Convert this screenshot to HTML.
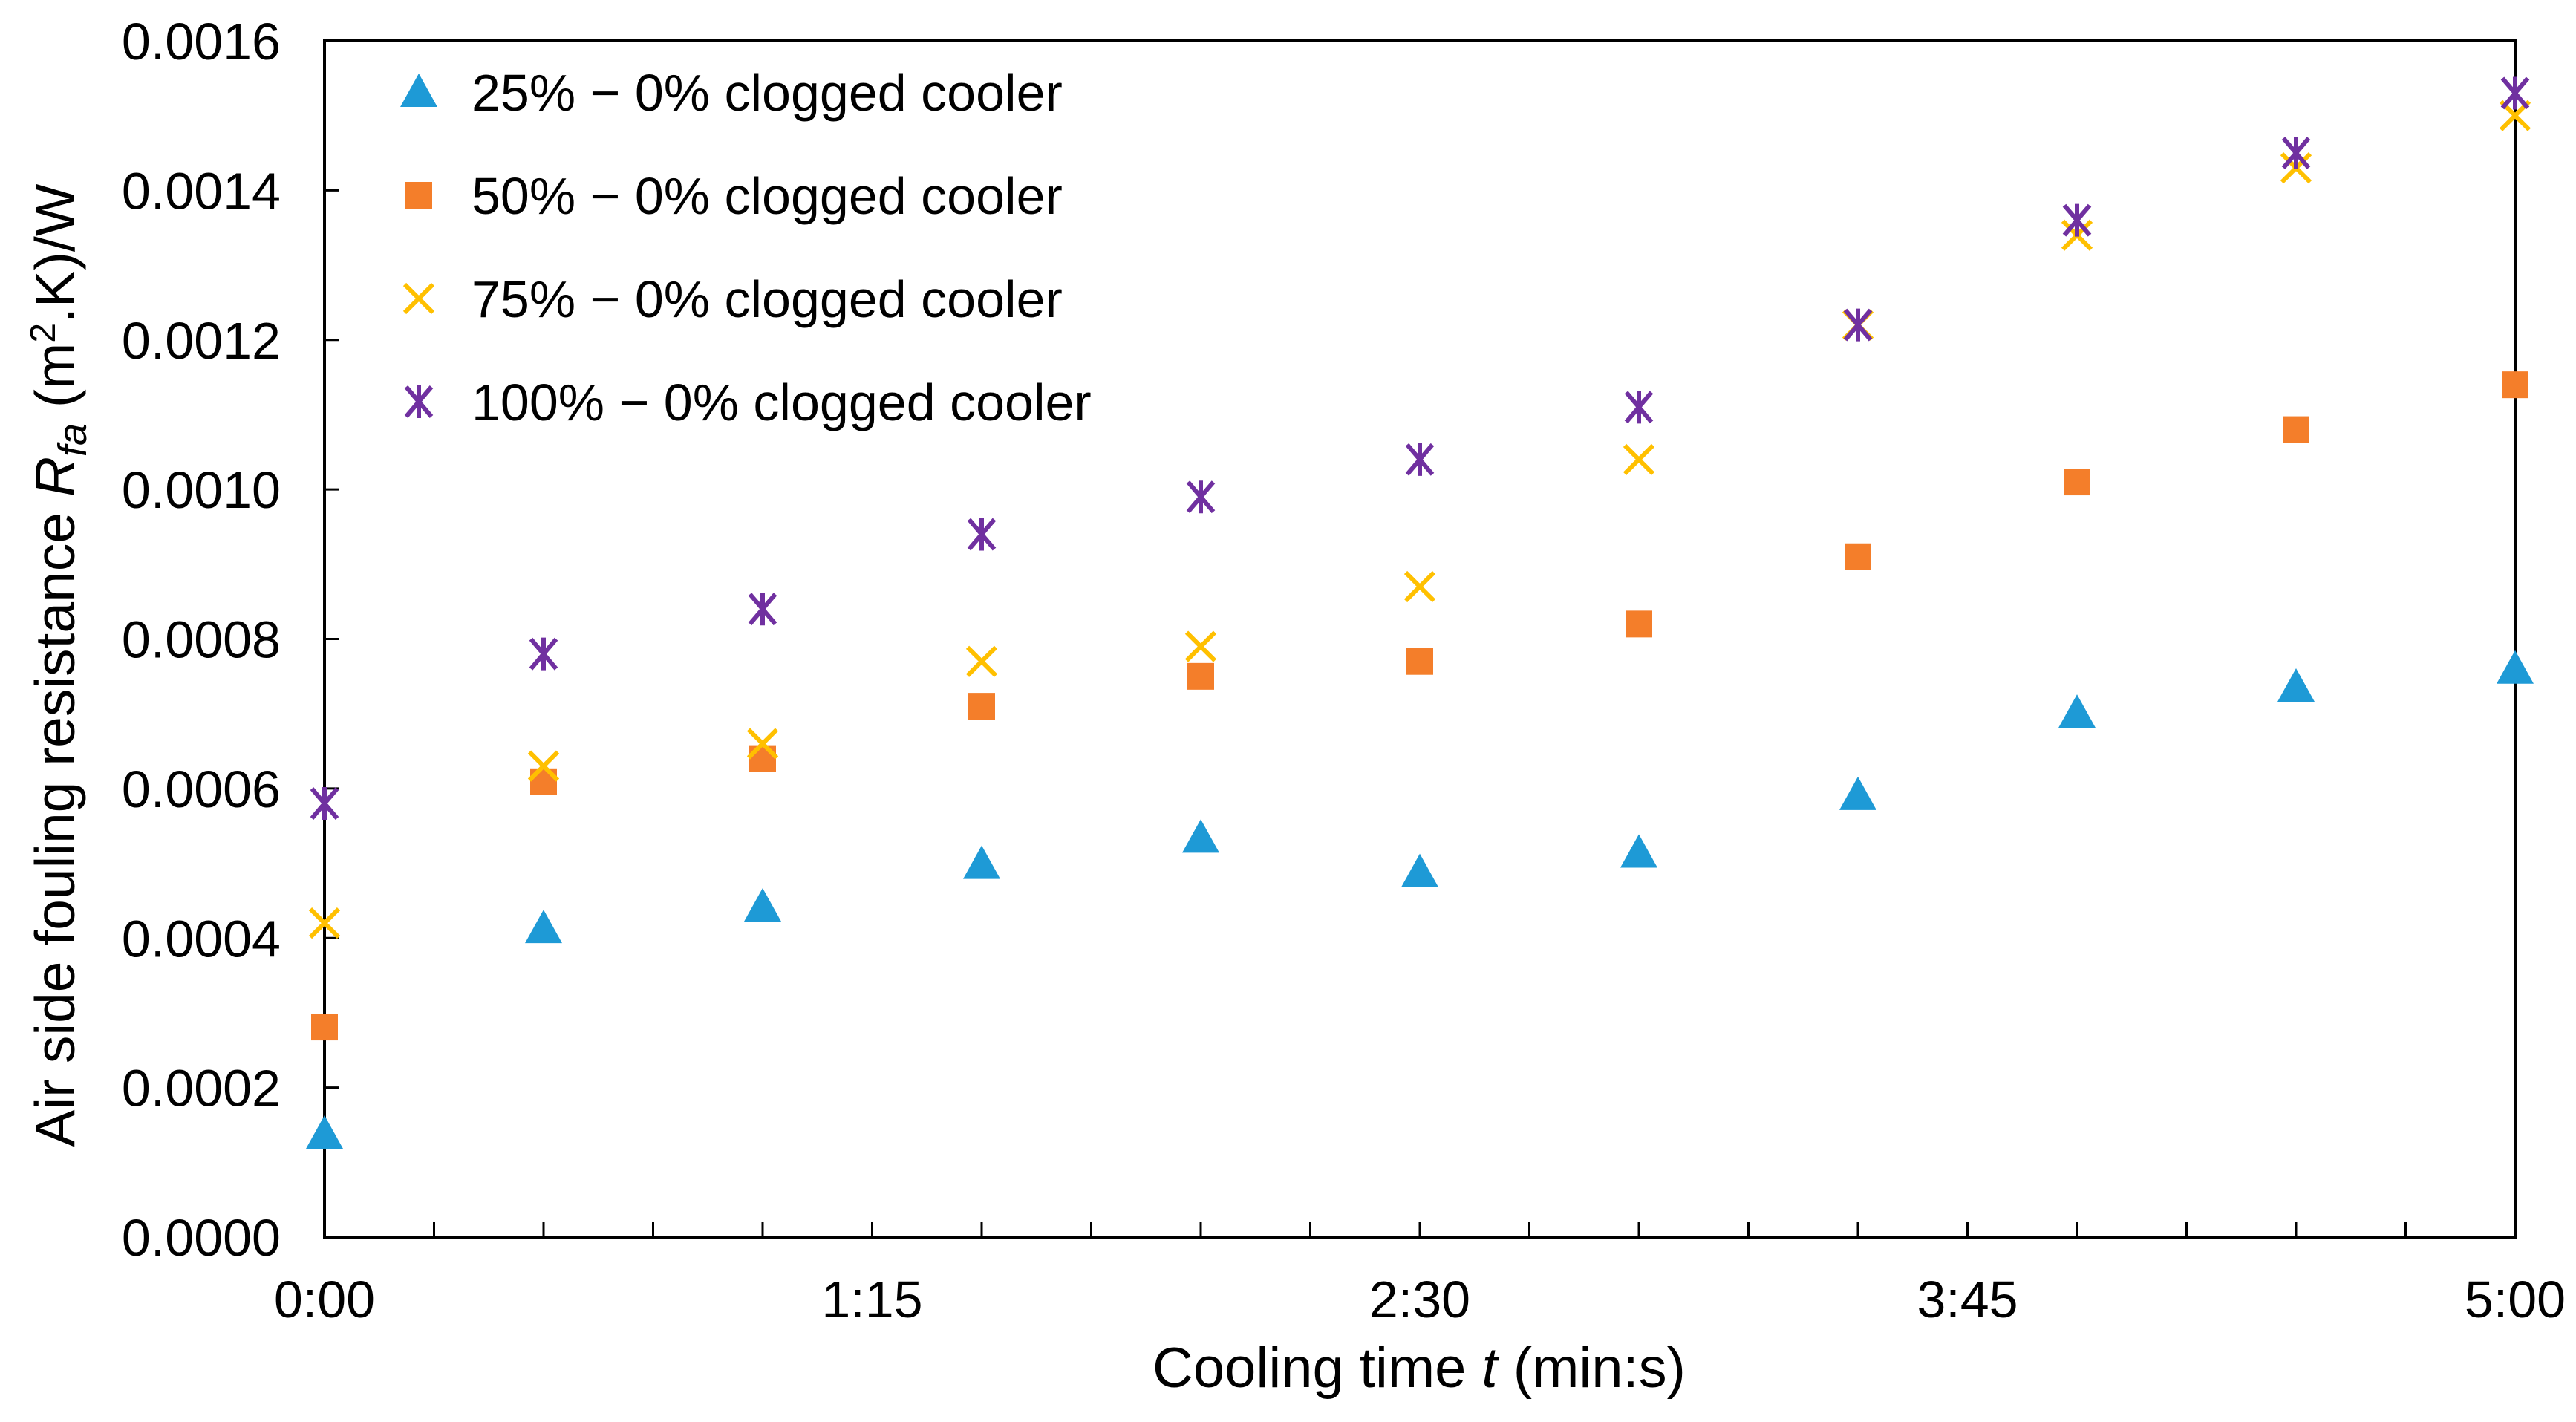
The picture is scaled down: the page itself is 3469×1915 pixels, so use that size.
<!DOCTYPE html>
<html><head><meta charset="utf-8"><style>
html,body{margin:0;padding:0;background:#fff;}
svg{display:block;font-family:"Liberation Sans",Arial,sans-serif;}
</style></head><body>
<svg id="chart" width="3469" height="1915" viewBox="0 0 3469 1915" xmlns="http://www.w3.org/2000/svg">
<rect width="3469" height="1915" fill="#fff"/>
<g id="axes"></g>
<g id="marks"></g>
<g id="legend"></g>
<text x="1911" y="1868" font-size="76" text-anchor="middle" fill="#000">Cooling time <tspan font-style="italic">t</tspan> (min:s)</text>
<text transform="translate(100,896) rotate(-90)" font-size="75" text-anchor="middle" fill="#000">Air side fouling resistance <tspan font-style="italic">R</tspan><tspan font-style="italic" font-size="54" dy="16">fa</tspan><tspan dy="-16"> (m</tspan><tspan font-size="48" dy="-26">2</tspan><tspan dy="26">.K)/W</tspan></text>
</svg>
<script>
const times=[0,30,60,90,120,150,180,210,240,270,300];
const s25=[0.000138,0.000413,0.000442,0.000499,0.000534,0.000488,0.000514,0.000591,0.000701,0.000736,0.00076];
const s50=[0.000281,0.000609,0.00064,0.00071,0.00075,0.00077,0.00082,0.00091,0.00101,0.00108,0.00114];
const s75=[0.00042,0.00063,0.00066,0.00077,0.00079,0.00087,0.00104,0.00122,0.00134,0.00143,0.0015];
const s100=[0.00058,0.00078,0.00084,0.00094,0.00099,0.00104,0.00111,0.00122,0.00136,0.00145,0.00153];
const yTicks=["0.0000","0.0002","0.0004","0.0006","0.0008","0.0010","0.0012","0.0014","0.0016"];
const xTickLabels=["0:00","1:15","2:30","3:45","5:00"];
const seriesNames=["25% \u2212 0% clogged cooler","50% \u2212 0% clogged cooler","75% \u2212 0% clogged cooler","100% \u2212 0% clogged cooler"];

const L=437,R=3387,T=55,B=1666;
const xs=t=>L+(t/300)*(R-L);
const ys=v=>B-(v/0.0016)*(B-T);
const NS="http://www.w3.org/2000/svg";
function mk(tag,attrs,parent){const e=document.createElementNS(NS,tag);for(const k in attrs)e.setAttribute(k,attrs[k]);parent.appendChild(e);return e;}
const axes=document.getElementById('axes');
const frame=mk('rect',{x:L,y:T,width:R-L,height:B-T,fill:'none',stroke:'#000','stroke-width':4},axes);


yTicks.forEach((lab,i)=>{const v=parseFloat(lab);const y=ys(v);
 mk('line',{x1:L,x2:L+20,y1:y,y2:y,stroke:'#000','stroke-width':3},axes);
 const t=mk('text',{x:378,y:y+25,'font-size':70,'text-anchor':'end',fill:'#000'},axes);t.textContent=lab;
 
 
});
for(let s=15;s<300;s+=15){const x=xs(s);mk('line',{x1:x,x2:x,y1:B,y2:B-20,stroke:'#000','stroke-width':3},axes);}
xTickLabels.forEach((lab,i)=>{const p=lab.split(':');const sec=(+p[0])*60+(+p[1]);
 const t=mk('text',{x:xs(sec),y:1774,'font-size':70,'text-anchor':'middle',fill:'#000'},axes);t.textContent=lab;
 
 
});
const colors=['#1E9AD6','#F47E2A','#FFC000','#7030A0'];
function marker(type,x,y,parent){
 const g=mk('g',{},parent);
 if(type===0){mk('polygon',{points:`${x},${y-25} ${x-25},${y+20} ${x+25},${y+20}`,fill:colors[0]},g);}
 else if(type===1){mk('rect',{x:x-18,y:y-18,width:36,height:36,fill:colors[1]},g);}
 else if(type===2){mk('path',{d:`M${x-19},${y-19}L${x+19},${y+19}M${x+19},${y-19}L${x-19},${y+19}`,stroke:colors[2],'stroke-width':6,fill:'none'},g);}
 else{mk('path',{d:`M${x-17},${y-20}L${x+17},${y+20}M${x+17},${y-20}L${x-17},${y+20}M${x},${y-22}L${x},${y+22}`,stroke:colors[3],'stroke-width':6,fill:'none'},g);}
 return g;
}
const marks=document.getElementById('marks');
const allSeries=[s25,s50,s75,s100];
allSeries.forEach((ser,si)=>{ser.forEach((v,i)=>{const g=marker(si,xs(times[i]),ys(v),marks);
 
 
});});
const legend=document.getElementById('legend');
seriesNames.forEach((nm,i)=>{const y=124+i*139;
 const g=marker(i,564,y,legend);
 
 
 const t=mk('text',{x:635,y:y+25,'font-size':70,fill:'#000'},legend);t.textContent=nm;
 
 
});
</script>
</body></html>
